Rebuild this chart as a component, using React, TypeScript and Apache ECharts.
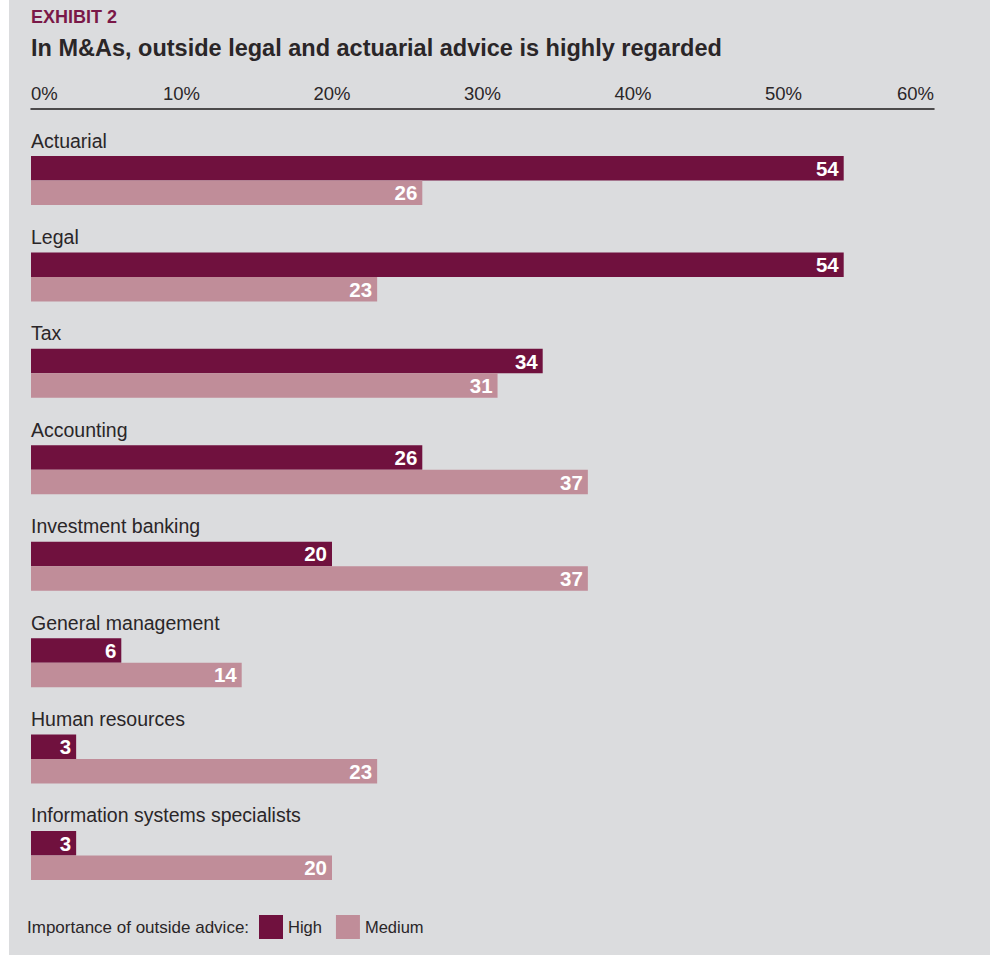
import React, { useEffect, useRef } from "react";
import * as echarts from "echarts";

const categories = [
  "Actuarial",
  "Legal",
  "Tax",
  "Accounting",
  "Investment banking",
  "General management",
  "Human resources",
  "Information systems specialists",
];
const highValues = [54, 54, 34, 26, 20, 6, 3, 3];
const mediumValues = [26, 23, 31, 37, 37, 14, 23, 20];
const seriesNames = ["High", "Medium"];
const axisMin = 0;
const axisMax = 60;
const axisStep = 10;

const SANS = '"Liberation Sans", Arial, sans-serif';
const HIGH = "#70113e";
const MED = "#c08d99";
const TEXT = "#2a2628";

export default function App() {
  const ref = useRef<HTMLDivElement>(null);
  useEffect(() => {
    if (!ref.current) return;
    const chart = echarts.init(ref.current, null, { renderer: "svg" });
    const valueLabel = {
      show: true,
      position: "insideRight",
      distance: 5,
      color: "#fff",
      fontFamily: SANS,
      fontWeight: "bold",
      fontSize: 20.5,
    };
    chart.setOption({
      animation: false,
      backgroundColor: "transparent",
      title: [
        {
          text: "EXHIBIT 2",
          left: 31,
          top: 8,
          padding: 0,
          textStyle: { fontFamily: SANS, fontSize: 18, fontWeight: "bold", color: "#7a1848" },
        },
        {
          text: "In M&As, outside legal and actuarial advice is highly regarded",
          left: 31,
          top: 36,
          padding: 0,
          textStyle: { fontFamily: SANS, fontSize: 23.5, fontWeight: "bold", color: TEXT },
        },
        {
          text: "Importance of outside advice:",
          left: 27,
          top: 918.5,
          padding: 0,
          textStyle: { fontFamily: SANS, fontSize: 17, fontWeight: "normal", color: TEXT, lineHeight: 17 },
        },
      ],
      legend: {
        data: seriesNames,
        left: 259,
        top: 915,
        padding: 0,
        itemWidth: 24,
        itemHeight: 24,
        itemGap: 14,
        icon: "rect",
        textStyle: { fontFamily: SANS, fontSize: 16.5, color: TEXT },
      },
      grid: { left: 31, right: 56, top: 132.3, height: 771.4, containLabel: false },
      xAxis: {
        type: "value",
        position: "top",
        min: axisMin,
        max: axisMax,
        interval: axisStep,
        offset: 23.3,
        axisLine: { show: true, lineStyle: { color: "#1e1a1b", width: 1.5 } },
        axisTick: { show: false },
        splitLine: { show: false },
        axisLabel: {
          formatter: "{value}%",
          fontFamily: SANS,
          fontSize: 18.5,
          color: TEXT,
          margin: 6,
          alignMinLabel: "left",
          alignMaxLabel: "right",
        },
      },
      yAxis: {
        type: "category",
        data: categories,
        inverse: true,
        axisLine: { show: false },
        axisTick: { show: false },
        axisLabel: {
          inside: true,
          interval: 0,
          margin: 0,
          fontFamily: SANS,
          fontSize: 19.5,
          lineHeight: 20,
          color: TEXT,
          verticalAlign: "middle",
          formatter: (v: string) => v + "\n\n\n\n",
        },
      },
      series: [
        {
          name: seriesNames[0],
          type: "bar",
          data: highValues,
          barWidth: 24.5,
          barGap: "0%",
          itemStyle: { color: HIGH },
          label: valueLabel,
        },
        {
          name: seriesNames[1],
          type: "bar",
          data: mediumValues,
          barWidth: 24.5,
          barGap: "0%",
          itemStyle: { color: MED },
          label: valueLabel,
        },
      ],
    });
    return () => chart.dispose();
  }, []);
  return (
    <div
      style={{
        position: "absolute",
        left: 0,
        top: 0,
        width: 990,
        height: 955,
        background: "linear-gradient(to right, #ffffff 0px, #ffffff 9px, #dbdcde 9px, #dbdcde 100%)",
      }}
    >
      <div ref={ref} style={{ width: 990, height: 955 }} />
    </div>
  );
}
